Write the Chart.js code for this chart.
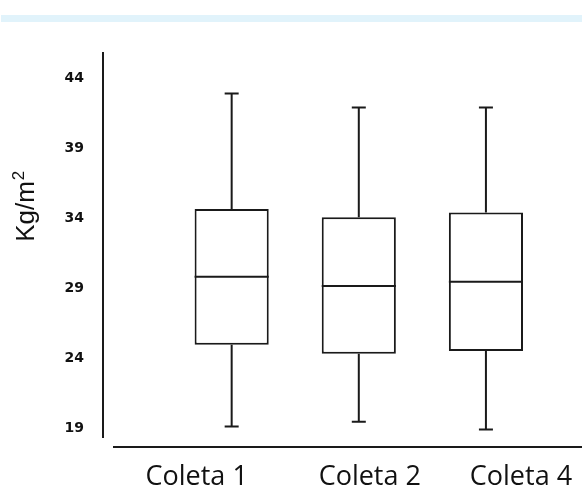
<!DOCTYPE html>
<html>
<head>
<meta charset="utf-8">
<script src="https://cdn.jsdelivr.net/npm/chart.js@4"></script>
<style>
  html, body { margin: 0; padding: 0; background: #fff; }
  #wrap { position: relative; width: 582px; height: 489px; }
  #band { position: absolute; left: 1px; top: 15px; width: 581px; height: 7px; background: #e1f3fb; }
  canvas { display: block; }
</style>
</head>
<body>
<div id="wrap">
  <canvas id="chart" width="582" height="489"></canvas>
  <div id="band"></div>
</div>
<script>
// ─────────────────────────────────────────
//  DATA
// ─────────────────────────────────────────
const categories   = ['Coleta 1', 'Coleta 2', 'Coleta 4'];
const minValues    = [19.1, 19.45, 18.9];
const q1Values     = [24.95, 24.3, 24.5];
const medianValues = [29.8, 29.15, 29.45];
const q3Values     = [34.65, 34.05, 34.4];
const maxValues    = [42.9, 41.9, 41.9];
const yTicks       = [19, 24, 29, 34, 39, 44];
const yTitleBase   = 'Kg/m';
const yTitleSup    = '2';

// ─────────────────────────────────────────
//  STYLE
// ─────────────────────────────────────────
const INK         = '#1a1a1a';
const LINE_W      = 2;
const CAP_HALF    = 7;                 // half width of whisker caps
const LABEL_SHIFT = [-35, 11, 35];     // x-label offsets from box centres (px)

// ── box plot extras: whiskers, medians, axis lines, labels ──
const boxPlugin = {
  id: 'boxExtras',
  afterDatasetsDraw(chart) {
    const { ctx, chartArea, scales: { x, y } } = chart;
    const meta = chart.getDatasetMeta(0);
    ctx.save();
    ctx.strokeStyle = INK;
    ctx.lineWidth   = LINE_W;
    ctx.lineCap     = 'butt';

    categories.forEach((_, i) => {
      const cx   = x.getPixelForValue(i);
      const half = meta.data[i].width / 2;
      const yMin = y.getPixelForValue(minValues[i]);
      const yQ1  = y.getPixelForValue(q1Values[i]);
      const yMed = y.getPixelForValue(medianValues[i]);
      const yQ3  = y.getPixelForValue(q3Values[i]);
      const yMax = y.getPixelForValue(maxValues[i]);

      ctx.beginPath();
      // whiskers
      ctx.moveTo(cx, yQ3); ctx.lineTo(cx, yMax);
      ctx.moveTo(cx, yQ1); ctx.lineTo(cx, yMin);
      // caps
      ctx.moveTo(cx - CAP_HALF, yMax); ctx.lineTo(cx + CAP_HALF, yMax);
      ctx.moveTo(cx - CAP_HALF, yMin); ctx.lineTo(cx + CAP_HALF, yMin);
      // median
      ctx.moveTo(cx - half, yMed); ctx.lineTo(cx + half, yMed);
      ctx.stroke();
    });

    // detached axis lines
    ctx.beginPath();
    ctx.moveTo(103, chartArea.top);
    ctx.lineTo(103, chartArea.bottom - 9);
    ctx.moveTo(113, chartArea.bottom);
    ctx.lineTo(chart.width, chartArea.bottom);
    ctx.stroke();

    // category labels
    ctx.fillStyle    = '#111';
    ctx.font         = '27px "Open Sans"';
    ctx.textAlign    = 'center';
    ctx.textBaseline = 'alphabetic';
    categories.forEach((c, i) => {
      ctx.fillText(c, x.getPixelForValue(i) + LABEL_SHIFT[i], 485);
    });

    // y-axis title with superscript
    ctx.save();
    ctx.translate(34, y.getPixelForValue(34.8));
    ctx.rotate(-Math.PI / 2);
    ctx.textAlign = 'left';
    ctx.font = '26px "Liberation Sans"';
    const wBase = ctx.measureText(yTitleBase).width;
    ctx.font = '17px "Liberation Sans"';
    const wSup = ctx.measureText(yTitleSup).width;
    const x0 = -(wBase + wSup) / 2;
    ctx.font = '26px "Liberation Sans"';
    ctx.fillText(yTitleBase, x0, 0);
    ctx.font = '17px "Liberation Sans"';
    ctx.fillText(yTitleSup, x0 + wBase + 1, -10);
    ctx.restore();

    ctx.restore();
  },
};

// ─────────────────────────────────────────
//  CHART
// ─────────────────────────────────────────
const chart = new Chart(document.getElementById('chart'), {
  type: 'bar',
  data: {
    labels: categories,
    datasets: [{
      data: categories.map((_, i) => [q1Values[i], q3Values[i]]),
      backgroundColor: '#ffffff',
      borderColor:     INK,
      borderWidth:     LINE_W,
      borderSkipped:   false,
      barPercentage:      0.583,
      categoryPercentage: 1,
    }],
  },
  options: {
    responsive: false,
    animation: false,
    layout: { padding: { top: 52, right: 32.5, bottom: 0, left: 0 } },
    plugins: {
      legend:  { display: false },
      tooltip: { enabled: false },
    },
    scales: {
      x: {
        grid:   { display: false },
        border: { display: false },
        ticks:  { display: false },
        afterFit: s => {
          s.height = 42;
          s.paddingLeft = 0; s.paddingRight = 0;
        },
      },
      y: {
        min: 17.643,
        max: 45.857,
        grid:   { display: false },
        border: { display: false },
        afterBuildTicks: s => { s.ticks = yTicks.map(v => ({ value: v })); },
        afterFit: s => {
          s.width = 168.1;
          s.paddingTop = 0; s.paddingBottom = 0;
        },
        ticks: {
          padding: 76,
          color: '#111',
          font: { family: '"DejaVu Sans"', size: 14, weight: 'bold' },
        },
      },
    },
  },
  plugins: [boxPlugin],
});
</script>
</body>
</html>
